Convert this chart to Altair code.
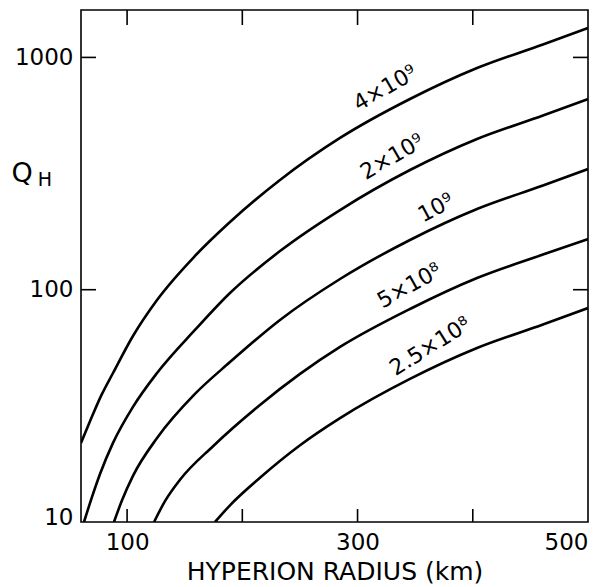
import altair as alt
import pandas as pd

# ---- data ----
radius_4e9 = [60.0, 68.7, 77.4, 87.8, 105.1, 126.0, 158.9, 189.3, 232.7, 284.8, 345.5, 403.7, 460.9, 500]
q_4e9 = [21.9, 27.8, 34.9, 43.8, 63.2, 90.3, 139.7, 195.6, 296.7, 450, 662, 900, 1137, 1338]

radius_2e9 = [62.6, 69.5, 76.5, 87.8, 105.1, 126.0, 158.9, 189.3, 232.7, 284.8, 345.5, 403.7, 460.9, 500]
q_2e9 = [10, 12.8, 16.1, 21.9, 31.3, 43.8, 67.1, 96.8, 146.7, 220.3, 327.5, 445.6, 562.2, 662.2]

radius_1e9 = [88.6, 95.6, 105.1, 126.0, 158.9, 189.3, 232.7, 284.8, 345.5, 403.7, 460.9, 500]
q_1e9 = [10, 12.4, 15.8, 23.0, 35.6, 48.8, 74.1, 111.2, 163.7, 222.5, 280.9, 330.8]

radius_5e8 = [123.4, 132.9, 145.9, 174.6, 215.3, 250.1, 284.8, 345.5, 403.7, 460.9, 500]
q_5e8 = [10, 12.3, 15.2, 21.2, 31.9, 43.4, 56.7, 82.6, 112.3, 141.7, 165.3]

radius_25e8 = [176.3, 189.3, 215.3, 250.1, 284.8, 345.5, 403.7, 460.9, 500]
q_25e8 = [10, 11.8, 15.5, 21.4, 28.0, 41.3, 56.1, 70.8, 83.4]

series_names = ["4e9", "2e9", "1e9", "5e8", "2.5e8"]

label_text = ["4×10⁹", "2×10⁹", "10⁹", "5×10⁸", "2.5×10⁸"]
label_r = [324, 330, 368, 345, 363]
label_q = [738, 373, 225, 104, 57]
label_angle = [330, 330, 332, 331, 328]

x_tick_values = [100, 200, 300, 400]
x_label_values = [100, 300, 500]
y_tick_values = [100, 1000]
y_label_values = [10, 100, 1000]

# ---- build tables ----
rows = []
for name, rr, qq in zip(series_names,
                        [radius_4e9, radius_2e9, radius_1e9, radius_5e8, radius_25e8],
                        [q_4e9, q_2e9, q_1e9, q_5e8, q_25e8]):
    for r, q in zip(rr, qq):
        rows.append({"series": name, "R": r, "Q": q})
df = pd.DataFrame(rows)

labels_df = pd.DataFrame({"text": label_text, "R": label_r, "Q": label_q, "angle": label_angle})

FONT = "DejaVu Sans"
W, H = 507, 512

xscale = alt.Scale(domain=[60, 500], nice=False, zero=False)
yscale = alt.Scale(type="log", domain=[10, 1600], nice=False)

lines = alt.Chart(df).mark_line(interpolate="monotone", strokeWidth=2.6, color="black", clip=True).encode(
    x=alt.X("R:Q", scale=xscale,
            axis=alt.Axis(values=x_label_values, ticks=False, domain=False, grid=False,
                          title="HYPERION RADIUS (km)", labelFont=FONT, labelFontSize=23,
                          labelColor="black", labelPadding=9, titleFont=FONT, titleFontSize=25,
                          titleFontWeight="normal", titleColor="black", titlePadding=5,
                          format="d", labelFlush=True)),
    y=alt.Y("Q:Q", scale=yscale,
            axis=alt.Axis(values=y_label_values, ticks=False, domain=False, grid=False,
                          title=None, labelFont=FONT, labelFontSize=23, labelColor="black",
                          labelPadding=8, format="d", labelFlush=False,
                          labelOffset={"expr": "datum.value == 10 ? -5 : 0"})),
    detail="series:N",
    order="R:Q",
)

curve_labels = alt.Chart(labels_df).mark_text(
    font=FONT, fontSize=22, color="black", align="center", baseline="middle"
).encode(
    x=alt.X("R:Q", scale=xscale),
    y=alt.Y("Q:Q", scale=yscale),
    text="text:N",
    angle=alt.Angle("angle:Q", scale=None),
)

xt = pd.DataFrame({"v": x_tick_values})
yt = pd.DataFrame({"v": y_tick_values})

bottom_ticks = alt.Chart(xt).mark_rule(color="black", strokeWidth=1.6).encode(
    x=alt.X("v:Q", scale=xscale), y=alt.value(H), y2=alt.value(H - 13))
top_ticks = alt.Chart(xt).mark_rule(color="black", strokeWidth=1.6).encode(
    x=alt.X("v:Q", scale=xscale), y=alt.value(0), y2=alt.value(15))
left_ticks = alt.Chart(yt).mark_rule(color="black", strokeWidth=1.6).encode(
    y=alt.Y("v:Q", scale=yscale), x=alt.value(0), x2=alt.value(15))
right_ticks = alt.Chart(yt).mark_rule(color="black", strokeWidth=1.6).encode(
    y=alt.Y("v:Q", scale=yscale), x=alt.value(W), x2=alt.value(W - 15))

q_title = alt.Chart(pd.DataFrame({"t": ["Q"]})).mark_text(
    font=FONT, fontSize=27, color="black", align="center", baseline="middle"
).encode(text="t:N", x=alt.value(-59), y=alt.value(164))
h_sub = alt.Chart(pd.DataFrame({"t": ["H"]})).mark_text(
    font=FONT, fontSize=19, color="black", align="center", baseline="middle"
).encode(text="t:N", x=alt.value(-36), y=alt.value(170))

chart = alt.layer(
    lines, curve_labels, bottom_ticks, top_ticks, left_ticks, right_ticks, q_title, h_sub
).properties(
    width=W, height=H,
    padding={"left": 81, "top": 10, "right": 6, "bottom": 65},
    autosize=alt.AutoSizeParams(type="none"),
    background="white",
).configure_view(
    stroke="black", strokeWidth=1.6
)

chart.save("out.html", embed_options={"renderer": "svg", "actions": False})
